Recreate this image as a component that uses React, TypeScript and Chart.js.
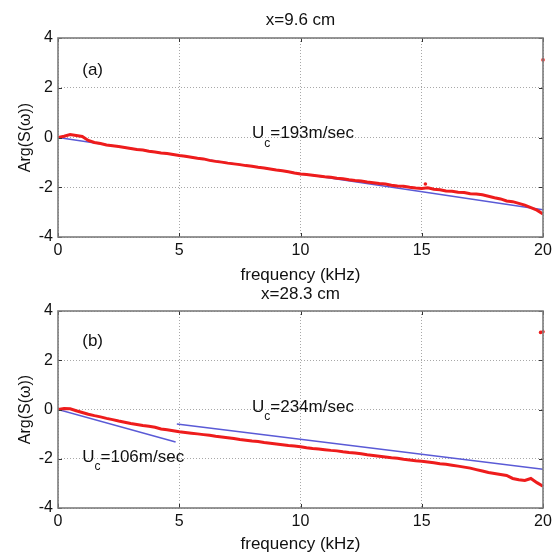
import React, { useEffect, useRef } from "react";
import { Chart, registerables } from "chart.js";
Chart.register(...registerables);

const FONT = '"Liberation Sans", Arial, Helvetica, sans-serif';

// frequency axis (kHz)
const freqs = [
  0, 0.25, 0.5, 0.75, 1, 1.25, 1.5, 1.75, 2, 2.25, 2.5, 2.75, 3, 3.25, 3.5, 3.75,
  4, 4.25, 4.5, 4.75, 5, 5.25, 5.5, 5.75, 6, 6.25, 6.5, 6.75, 7, 7.25, 7.5, 7.75,
  8, 8.25, 8.5, 8.75, 9, 9.25, 9.5, 9.75, 10, 10.25, 10.5, 10.75, 11, 11.25, 11.5, 11.75,
  12, 12.25, 12.5, 12.75, 13, 13.25, 13.5, 13.75, 14, 14.25, 14.5, 14.75, 15, 15.25, 15.5, 15.75,
  16, 16.25, 16.5, 16.75, 17, 17.25, 17.5, 17.75, 18, 18.25, 18.5, 18.75, 19, 19.25, 19.5, 19.75, 20,
];

// (a) x = 9.6 cm measured phase
const phaseA = [
  0.0, 0.05, 0.12, 0.08, 0.04, -0.12, -0.2, -0.24, -0.3, -0.33, -0.36, -0.4, -0.44, -0.48, -0.5, -0.55,
  -0.58, -0.62, -0.64, -0.68, -0.72, -0.75, -0.79, -0.83, -0.86, -0.92, -0.96, -0.99, -1.03, -1.06, -1.09, -1.13,
  -1.16, -1.2, -1.23, -1.27, -1.31, -1.34, -1.38, -1.43, -1.47, -1.49, -1.52, -1.55, -1.58, -1.6, -1.64, -1.66,
  -1.7, -1.73, -1.75, -1.79, -1.82, -1.85, -1.87, -1.92, -1.95, -1.96, -2.0, -2.03, -2.05, -2.02, -2.08, -2.1,
  -2.15, -2.16, -2.2, -2.21, -2.26, -2.27, -2.3, -2.36, -2.42, -2.47, -2.55, -2.58, -2.65, -2.72, -2.82, -2.92, -3.08,
];
const spikeFreqA = [15.15];
const spikeValA = [-1.87];
const wrapFreqA = [20];
const wrapValA = [3.12];
const fitFreqA = [0, 20];
const fitValA = [0, -2.9];

// (b) x = 28.3 cm measured phase
const phaseB = [
  0.0, 0.04, 0.03, -0.05, -0.12, -0.19, -0.25, -0.3, -0.36, -0.41, -0.47, -0.52, -0.57, -0.61, -0.65, -0.68,
  -0.72, -0.79, -0.82, -0.86, -0.9, -0.93, -0.96, -0.99, -1.02, -1.05, -1.09, -1.12, -1.15, -1.18, -1.22, -1.25,
  -1.28, -1.3, -1.34, -1.37, -1.4, -1.43, -1.46, -1.48, -1.51, -1.55, -1.58, -1.6, -1.63, -1.66, -1.68, -1.72,
  -1.75, -1.77, -1.8, -1.84, -1.87, -1.9, -1.93, -1.96, -1.98, -2.02, -2.05, -2.08, -2.1, -2.13, -2.16, -2.2,
  -2.22, -2.26, -2.3, -2.34, -2.38, -2.44, -2.5, -2.56, -2.6, -2.64, -2.68, -2.8, -2.85, -2.88, -2.8, -2.97, -3.12,
];
const wrapFreqB = [19.9, 20];
const wrapValB = [3.13, 3.16];
const fitFreqB1 = [0, 4.85];
const fitValB1 = [0, -1.32];
const fitFreqB2 = [4.9, 20];
const fitValB2 = [-0.59, -2.43];

const xTicks = [0, 5, 10, 15, 20];
const yTicks = [-4, -2, 0, 2, 4];

const RED = "#ee1c1c";
const BLUE = "#5a5ad6";

const pts = (xs: number[], ys: number[]) => xs.map((x, i) => ({ x, y: ys[i] }));

const panelPlugin = {
  id: "panel",
  afterDraw(chart: any, _args: any, opts: any) {
    const { ctx, chartArea: a, scales } = chart;
    const xs = scales.x;
    const ys = scales.y;
    ctx.save();
    // inward tick marks
    ctx.strokeStyle = "#333";
    ctx.lineWidth = 1;
    ctx.beginPath();
    for (const v of xTicks) {
      const px = Math.round(xs.getPixelForValue(v)) + 0.5;
      ctx.moveTo(px, a.bottom);
      ctx.lineTo(px, a.bottom - 4);
      ctx.moveTo(px, a.top);
      ctx.lineTo(px, a.top + 4);
    }
    for (const v of yTicks) {
      const py = Math.round(ys.getPixelForValue(v)) + 0.5;
      ctx.moveTo(a.left, py);
      ctx.lineTo(a.left + 4, py);
      ctx.moveTo(a.right, py);
      ctx.lineTo(a.right - 4, py);
    }
    ctx.stroke();
    // frame
    ctx.strokeStyle = "#7c7c7c";
    ctx.lineWidth = 1.6;
    ctx.strokeRect(a.left, a.top, a.right - a.left, a.bottom - a.top);
    // title
    ctx.fillStyle = "#111";
    ctx.font = `17px ${FONT}`;
    ctx.textAlign = "center";
    ctx.textBaseline = "middle";
    ctx.fillText(opts.title, (a.left + a.right) / 2, opts.titleY);
    // annotations
    ctx.textAlign = "left";
    for (const lab of opts.labels) {
      let px = xs.getPixelForValue(lab.x);
      const py = ys.getPixelForValue(lab.y);
      ctx.font = `17px ${FONT}`;
      ctx.fillText(lab.main, px, py);
      px += ctx.measureText(lab.main).width;
      if (lab.sub) {
        ctx.font = `12px ${FONT}`;
        ctx.fillText(lab.sub, px, py + 10);
        px += ctx.measureText(lab.sub).width;
        ctx.font = `17px ${FONT}`;
        ctx.fillText(lab.rest, px, py);
      }
    }
    ctx.restore();
  },
};

function makeConfig(spec: any): any {
  return {
    type: "scatter",
    data: { datasets: spec.datasets },
    plugins: [panelPlugin],
    options: {
      animation: false,
      responsive: true,
      maintainAspectRatio: false,
      events: [],
      layout: { padding: { left: 0, right: 16, top: spec.padTop, bottom: 0 } },
      plugins: {
        legend: { display: false },
        tooltip: { enabled: false },
        title: { display: false },
        panel: { title: spec.title, titleY: spec.titleY, labels: spec.labels },
      },
      scales: {
        x: {
          type: "linear",
          min: 0,
          max: 20,
          afterBuildTicks: (s: any) => {
            s.ticks = xTicks.map((v) => ({ value: v }));
          },
          ticks: { font: { size: 16, family: FONT }, color: "#111", padding: 4, maxRotation: 0 },
          grid: { color: "#a8a8a8", lineWidth: 1, drawTicks: false },
          border: { display: false, dash: [1, 2] },
          title: {
            display: true,
            text: "frequency (kHz)",
            font: { size: 17, family: FONT },
            color: "#111",
            padding: { top: 0, bottom: spec.xTitlePad },
          },
          afterFit: (s: any) => {
            s.height = spec.xHeight;
          },
        },
        y: {
          type: "linear",
          min: -4,
          max: 4,
          afterBuildTicks: (s: any) => {
            s.ticks = yTicks.map((v) => ({ value: v }));
          },
          ticks: { font: { size: 16, family: FONT }, color: "#111", padding: 5 },
          grid: { color: "#a8a8a8", lineWidth: 1, drawTicks: false },
          border: { display: false, dash: [1, 2] },
          title: {
            display: true,
            text: "Arg(S(ω))",
            font: { size: 16, family: FONT },
            color: "#111",
            padding: { top: 16, bottom: 0 },
          },
          afterFit: (s: any) => {
            s.width = 58;
          },
        },
      },
    },
  };
}

const redLine = (data: any[]) => ({
  data,
  showLine: true,
  borderColor: RED,
  backgroundColor: RED,
  borderWidth: 3,
  pointRadius: 0,
  tension: 0,
});
const redDots = (data: any[]) => ({
  data,
  showLine: false,
  borderColor: RED,
  backgroundColor: RED,
  pointRadius: 1.8,
  borderWidth: 0,
  clip: false,
});
const blueLine = (data: any[]) => ({
  data,
  showLine: true,
  borderColor: BLUE,
  backgroundColor: BLUE,
  borderWidth: 1.5,
  pointRadius: 0,
  tension: 0,
});

export default function App() {
  const refA = useRef<HTMLCanvasElement>(null);
  const refB = useRef<HTMLCanvasElement>(null);

  useEffect(() => {
    const chartA = new Chart(
      refA.current as HTMLCanvasElement,
      makeConfig({
        title: "x=9.6 cm",
        titleY: 20,
        padTop: 38,
        xHeight: 53,
        xTitlePad: 4,
        labels: [
          { x: 1.0, y: 2.72, main: "(a)" },
          { x: 8.0, y: 0.17, main: "U", sub: "c", rest: "=193m/sec" },
        ],
        datasets: [
          redLine(pts(freqs, phaseA)),
          redDots(pts(spikeFreqA, spikeValA)),
          redDots(pts(wrapFreqA, wrapValA)),
          blueLine(pts(fitFreqA, fitValA)),
        ],
      })
    );
    const chartB = new Chart(
      refB.current as HTMLCanvasElement,
      makeConfig({
        title: "x=28.3 cm",
        titleY: 24,
        padTop: 41,
        xHeight: 49,
        xTitlePad: 2,
        labels: [
          { x: 1.0, y: 2.78, main: "(b)" },
          { x: 8.0, y: 0.1, main: "U", sub: "c", rest: "=234m/sec" },
          { x: 1.0, y: -1.93, main: "U", sub: "c", rest: "=106m/sec" },
        ],
        datasets: [
          redLine(pts(freqs, phaseB)),
          redDots(pts(wrapFreqB, wrapValB)),
          blueLine(pts(fitFreqB1, fitValB1)),
          blueLine(pts(fitFreqB2, fitValB2)),
        ],
      })
    );
    return () => {
      chartA.destroy();
      chartB.destroy();
    };
  }, []);

  return (
    <div style={{ position: "absolute", left: 0, top: 0, width: 559, height: 557, background: "#fff" }}>
      <div style={{ position: "absolute", left: 0, top: 0, width: 559, height: 290 }}>
        <canvas ref={refA} />
      </div>
      <div style={{ position: "absolute", left: 0, top: 270, width: 559, height: 287 }}>
        <canvas ref={refB} />
      </div>
    </div>
  );
}
